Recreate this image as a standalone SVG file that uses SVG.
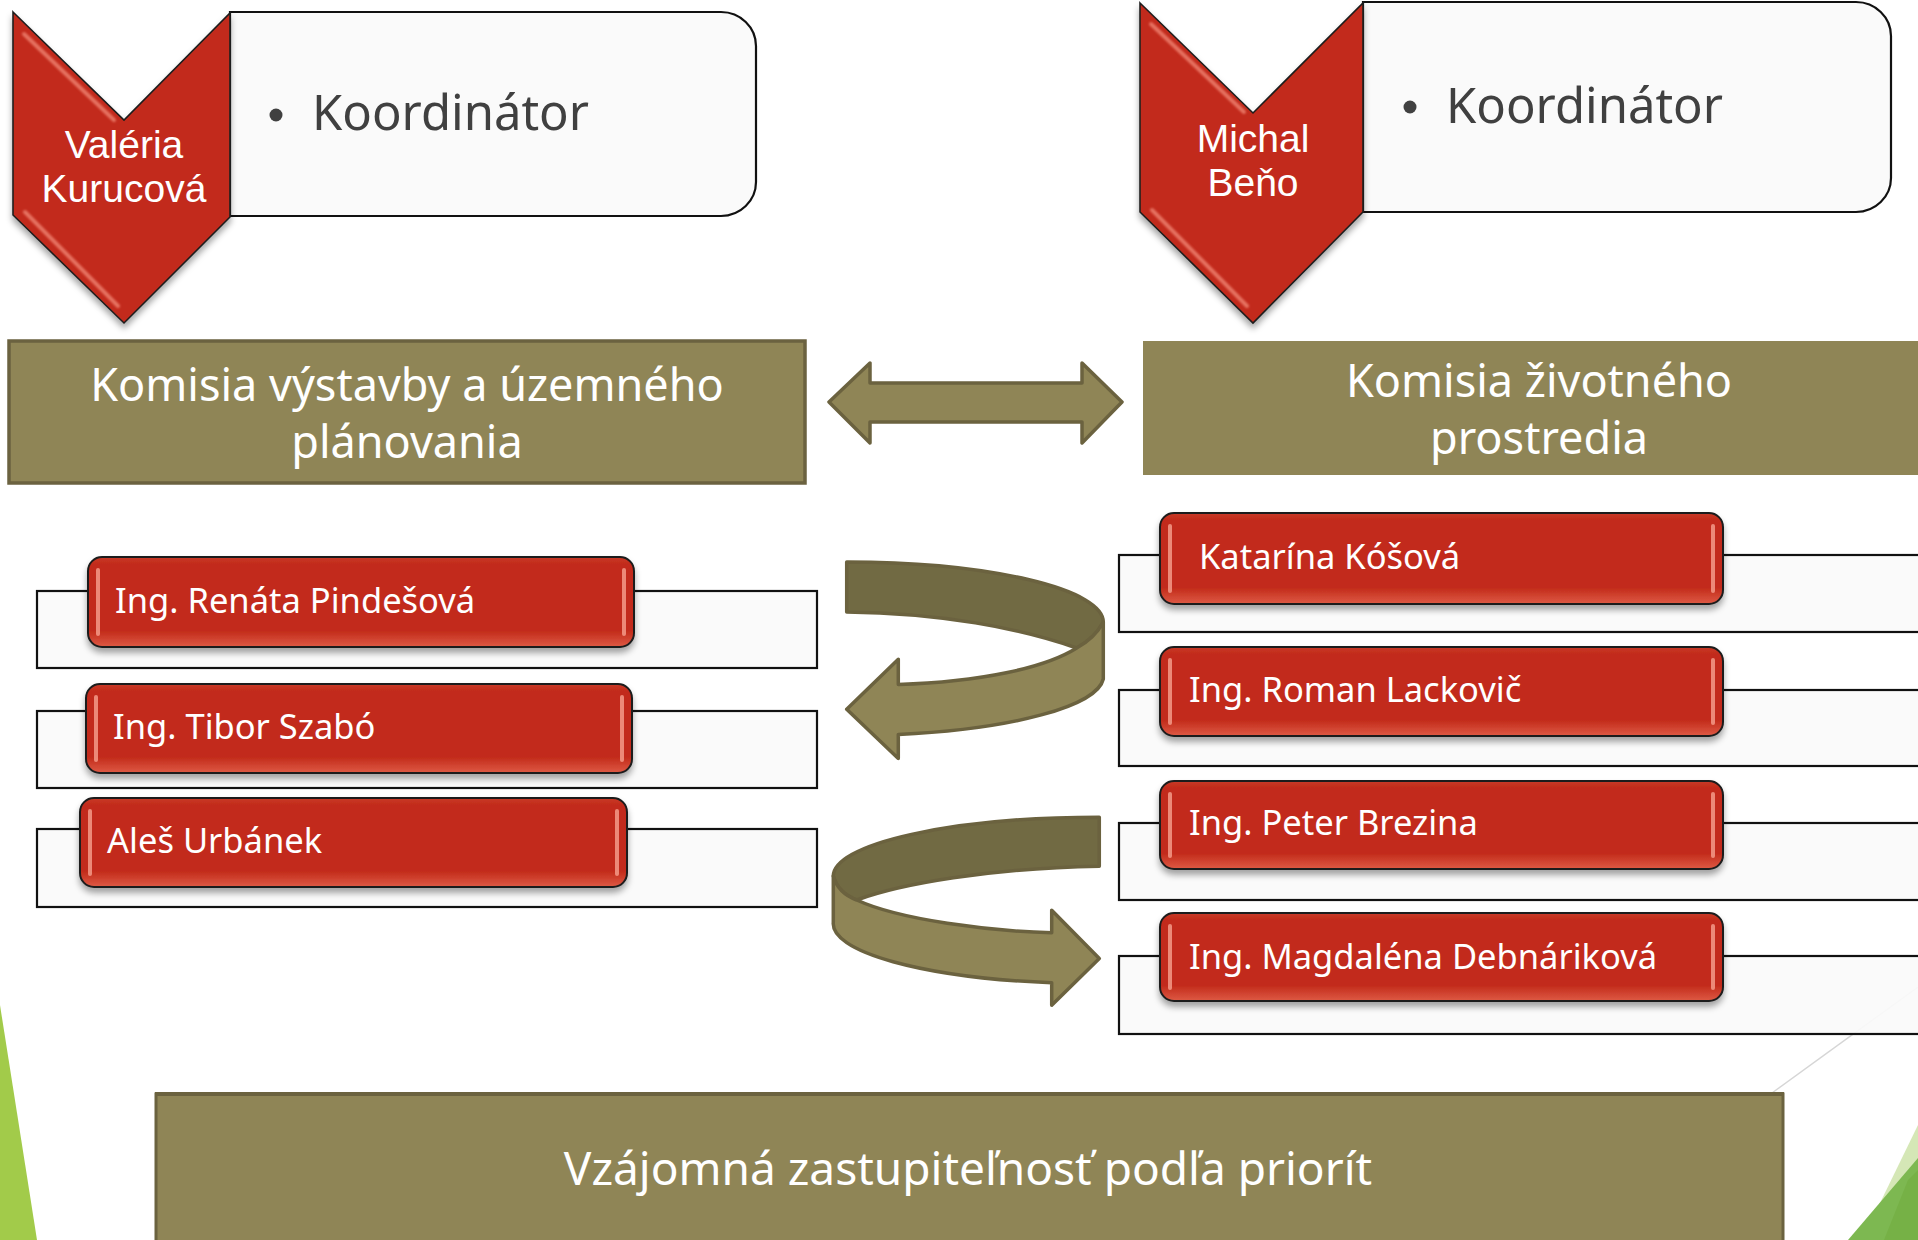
<svg xmlns="http://www.w3.org/2000/svg" width="1918" height="1240" viewBox="0 0 1918 1240">
<defs>
  <filter id="shadow" x="-10%" y="-10%" width="120%" height="140%">
    <feDropShadow dx="0" dy="5" stdDeviation="3" flood-color="#000" flood-opacity="0.35"/>
  </filter>
  <filter id="soft" x="-20%" y="-20%" width="140%" height="140%">
    <feGaussianBlur stdDeviation="1.2"/>
  </filter>
  <linearGradient id="redg" x1="0" y1="0" x2="0" y2="1">
    <stop offset="0" stop-color="#C93A28"/>
    <stop offset="0.08" stop-color="#C22B1A"/>
    <stop offset="0.82" stop-color="#C22B1A"/>
    <stop offset="1" stop-color="#DE5A45"/>
  </linearGradient>
  <style>
    .t { font-family: "Noto Sans", "Open Sans", sans-serif; }
    .red { fill: url(#redg); stroke: #1E1E1E; stroke-width: 2; }
    .hl { fill: #F39A88; opacity: 0.85; }
    .bg { fill: #FAFAFA; fill-opacity: 0.93; stroke: #111; stroke-width: 2.2; }
    .coord { fill: #FAFAFA; stroke: #111; stroke-width: 2.2; }
    .chev { fill: #C22B1A; stroke: #1E1E1E; stroke-width: 1.6; stroke-linejoin: miter; }
    .chevhl { stroke: #F28A78; stroke-width: 4; opacity: 0.75; stroke-linecap: round; fill: none; }
    .olive { fill: #8F8556; }
    .arrow { fill: #8F8556; stroke: #6B623F; stroke-width: 3.5; stroke-linejoin: round; }
    .arrowdark { fill: #716A43; stroke: #6B623F; stroke-width: 3.5; stroke-linejoin: round; }
    .name { fill: #FFFFFF; font-size: 34.5px; }
    .chevtxt { font-family: "Liberation Sans", Arial, sans-serif; fill: #FFFFFF; font-size: 39px; text-anchor: middle; }
    .koord { fill: #404040; font-size: 49px; }
    .kom { fill: #FFFFFF; font-size: 45px; text-anchor: middle; }
  </style>
</defs>

<rect x="0" y="0" width="1918" height="1240" fill="#FFFFFF"/>

<!-- background decoration -->
<g id="decor">
  <polygon points="0,1005 37,1240 0,1240" fill="#A2CB4A"/>
  <polygon points="1918,1125 1862,1240 1918,1240" fill="#D5E7B6"/>
  <polygon points="1918,1158 1848,1240 1918,1240" fill="#7DB851"/>
  <polygon points="1908,1180 1884,1240 1918,1240 1918,1170" fill="#76B146"/>
  <line x1="1772" y1="1093" x2="1918" y2="987" stroke="#D6D6D6" stroke-width="1.5"/>
</g>

<!-- coordinators -->
<g id="coord-left">
  <path class="coord" d="M230,12 H721 A35,34 0 0 1 756,46 V182 A35,34 0 0 1 721,216 H230 Z"/>
  <circle cx="276" cy="115" r="6.5" fill="#404040"/>
  <text class="t koord" x="312" y="130">Koordinátor</text>
</g>
<g id="chevron-left">
  <polygon class="chev" filter="url(#shadow)" points="13,12 124,120 230,13 230,217 124,323 13,215"/>
  <line class="chevhl" filter="url(#soft)" x1="24" y1="34" x2="114" y2="120"/>
  <line class="chevhl" filter="url(#soft)" x1="25" y1="212" x2="118" y2="306"/>
  <text class="chevtxt" x="124" y="158">Valéria</text>
  <text class="chevtxt" x="124" y="202">Kurucová</text>
</g>

<g id="coord-right">
  <path class="coord" d="M1363,2 H1856 A35,34 0 0 1 1891,36 V178 A35,34 0 0 1 1856,212 H1363 Z"/>
  <circle cx="1410" cy="107" r="6.5" fill="#404040"/>
  <text class="t koord" x="1446" y="123">Koordinátor</text>
</g>
<g id="chevron-right">
  <polygon class="chev" filter="url(#shadow)" points="1140,3 1253,113 1363,3 1363,212 1253,323 1140,212"/>
  <line class="chevhl" filter="url(#soft)" x1="1151" y1="24" x2="1244" y2="112"/>
  <line class="chevhl" filter="url(#soft)" x1="1152" y1="210" x2="1247" y2="306"/>
  <text class="chevtxt" x="1253" y="152">Michal</text>
  <text class="chevtxt" x="1253" y="196">Beňo</text>
</g>

<!-- commissions -->
<g id="komisia-left">
  <rect class="olive" x="9" y="341" width="796" height="142" stroke="#6B6240" stroke-width="3.5"/>
  <text class="t kom" x="407" y="401"><tspan x="407">Komisia výstavby a územného</tspan><tspan x="407" dy="57">plánovania</tspan></text>
</g>
<g id="komisia-right">
  <rect class="olive" x="1143" y="341" width="790" height="134"/>
  <text class="t kom" x="1539" y="397"><tspan x="1539">Komisia životného</tspan><tspan x="1539" dy="57">prostredia</tspan></text>
</g>

<!-- left members -->
<g id="member-pindesova">
  <rect class="bg" x="37" y="591" width="780" height="77"/>
  <rect class="red" filter="url(#shadow)" x="88" y="557" width="546" height="90" rx="14"/>
  <rect class="hl" x="96" y="568" width="4" height="68" rx="2"/>
  <rect class="hl" x="622" y="568" width="4" height="68" rx="2"/>
  <text class="t name" x="115" y="613">Ing. Renáta Pindešová</text>
</g>
<g id="member-szabo">
  <rect class="bg" x="37" y="711" width="780" height="77"/>
  <rect class="red" filter="url(#shadow)" x="86" y="684" width="546" height="89" rx="14"/>
  <rect class="hl" x="94" y="695" width="4" height="67" rx="2"/>
  <rect class="hl" x="620" y="695" width="4" height="67" rx="2"/>
  <text class="t name" x="113" y="739">Ing. Tibor Szabó</text>
</g>
<g id="member-urbanek">
  <rect class="bg" x="37" y="829" width="780" height="78"/>
  <rect class="red" filter="url(#shadow)" x="80" y="798" width="547" height="89" rx="14"/>
  <rect class="hl" x="88" y="809" width="4" height="67" rx="2"/>
  <rect class="hl" x="615" y="809" width="4" height="67" rx="2"/>
  <text class="t name" x="107" y="853">Aleš Urbánek</text>
</g>

<!-- right members -->
<g id="member-kosova">
  <rect class="bg" x="1119" y="555" width="820" height="77"/>
  <rect class="red" filter="url(#shadow)" x="1160" y="513" width="563" height="91" rx="14"/>
  <rect class="hl" x="1168" y="524" width="4" height="69" rx="2"/>
  <rect class="hl" x="1711" y="524" width="4" height="69" rx="2"/>
  <text class="t name" x="1199" y="569">Katarína Kóšová</text>
</g>
<g id="member-lackovic">
  <rect class="bg" x="1119" y="690" width="820" height="76"/>
  <rect class="red" filter="url(#shadow)" x="1160" y="647" width="563" height="89" rx="14"/>
  <rect class="hl" x="1168" y="658" width="4" height="67" rx="2"/>
  <rect class="hl" x="1711" y="658" width="4" height="67" rx="2"/>
  <text class="t name" x="1189" y="702">Ing. Roman Lackovič</text>
</g>
<g id="member-brezina">
  <rect class="bg" x="1119" y="823" width="820" height="77"/>
  <rect class="red" filter="url(#shadow)" x="1160" y="781" width="563" height="88" rx="14"/>
  <rect class="hl" x="1168" y="792" width="4" height="66" rx="2"/>
  <rect class="hl" x="1711" y="792" width="4" height="66" rx="2"/>
  <text class="t name" x="1189" y="835">Ing. Peter Brezina</text>
</g>
<g id="member-debnarikova">
  <rect class="bg" x="1119" y="956" width="820" height="78"/>
  <rect class="red" filter="url(#shadow)" x="1160" y="913" width="563" height="88" rx="14"/>
  <rect class="hl" x="1168" y="924" width="4" height="66" rx="2"/>
  <rect class="hl" x="1711" y="924" width="4" height="66" rx="2"/>
  <text class="t name" x="1189" y="969">Ing. Magdaléna Debnáriková</text>
</g>

<!-- bottom -->
<g id="zastupitelnost">
  <rect class="olive" x="156" y="1094" width="1627" height="160" stroke="#6B623F" stroke-width="3"/>
  <rect x="155" y="1092" width="1629" height="4" fill="#6B623F"/>
  <text class="t" x="968" y="1185" fill="#FFFFFF" font-size="46" text-anchor="middle">Vzájomná zastupiteľnosť podľa priorít</text>
</g>

<!-- connectors -->
<g id="connectors">
  <polygon class="arrow" points="829,402 870,363 870,383 1082,383 1082,363 1122,402 1082,443 1082,422 870,422 870,443"/>
  <g id="curved-arrow-upper">
    <path class="arrowdark" d="M846.7,562 A256.6,60 0 0 1 1103.3,622 Q1095,638 1076.7,648 C1020,628 940,613 846.7,612 Z"/>
    <path class="arrow" d="M1103.3,622 L1103.3,679 A256.6,60 0 0 1 898.3,734.5 L898.3,758.6 L846.7,709.3 L898.3,659.3 L898.3,684.5 C980,682 1045,668 1076.7,648 Q1095,638 1103.3,622 Z"/>
  </g>
  <g id="curved-arrow-lower">
    <path class="arrowdark" d="M1099.3,817.2 A266,59 0 0 0 833.3,876 Q838,893 856.7,900 C900,884 990,868 1099.3,866.2 Z"/>
    <path class="arrow" d="M833.3,876 L833.3,922.4 A266,60 0 0 0 1051.7,982.8 L1051.7,1005.2 L1099.3,958.6 L1051.7,910.3 L1051.7,932.8 C990,931 900,920 856.7,900 Q838,893 833.3,876 Z"/>
  </g>
</g>
</svg>
